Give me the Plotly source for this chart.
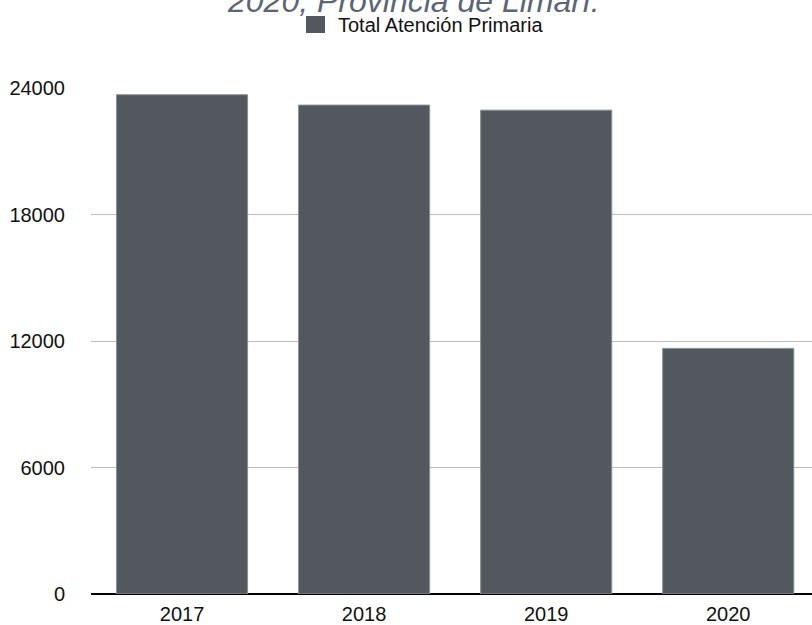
import plotly.graph_objects as go

# Annual totals for primary care
years = ["2017", "2018", "2019", "2020"]
totals = [23680, 23190, 22950, 11650]
y_ticks = [0, 6000, 12000, 18000, 24000]
series_name = "Total Atención Primaria"
title_line = "2020, Provincia de Limarí."

bar_color = "#53575e"
font_family = "Liberation Sans, Arial, Helvetica, sans-serif"

fig = go.Figure()
fig.add_trace(go.Bar(
    x=years,
    y=totals,
    name=series_name,
    marker=dict(color=bar_color, line=dict(color="#8b8e93", width=1)),
    showlegend=False,
))

# Plot area spans x 91..812 px and y 88..594 px
L, R, T, B = 91, 0, 88, 31
W, H = 812, 625
pw = W - L - R
ph = H - T - B


def px_x(x):
    return (x - L) / pw


def px_y(y):
    return (H - B - y) / ph


# Legend swatch and label
fig.add_shape(type="rect", xref="paper", yref="paper",
              x0=px_x(306), x1=px_x(325), y0=px_y(33), y1=px_y(16),
              fillcolor=bar_color, line=dict(width=0))
fig.add_annotation(text=series_name, xref="paper", yref="paper",
                   x=px_x(336), y=px_y(25), xanchor="left", yanchor="middle",
                   showarrow=False, font=dict(size=20, color="#111111", family=font_family))

# Title (last line of a wrapped title)
fig.add_annotation(text="<i>" + title_line + "</i>", xref="paper", yref="paper",
                   x=px_x(413), y=px_y(21), xanchor="center", yanchor="bottom",
                   showarrow=False, font=dict(size=32, color="#5b6577", family=font_family))

fig.update_layout(
    width=W, height=H,
    margin=dict(l=L, r=R, t=T, b=B, pad=0),
    paper_bgcolor="white", plot_bgcolor="white",
    bargap=0.28,
    font=dict(family=font_family, color="#111111"),
    xaxis=dict(
        range=[-0.5, 3.46], automargin=False,
        showgrid=False, ticks="", showline=False, zeroline=False,
        ticklabelstandoff=6,
        tickfont=dict(size=20),
    ),
    yaxis=dict(
        range=[0, 24000], automargin=False,
        tickvals=y_ticks, ticktext=[str(v) for v in y_ticks],
        showgrid=True, gridcolor="#bdbdbd", gridwidth=1,
        zeroline=True, zerolinecolor="#000000", zerolinewidth=2,
        showline=False, ticks="",
        ticklabelstandoff=25,
        tickfont=dict(size=20),
    ),
)

fig.write_html("out.html")
